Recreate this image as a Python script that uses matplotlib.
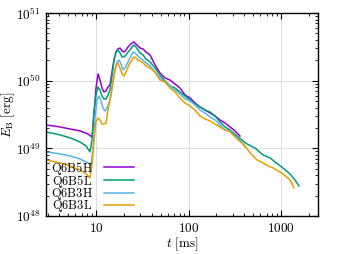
import numpy as np
import matplotlib
matplotlib.use("Agg")
import matplotlib.pyplot as plt
from matplotlib.ticker import LogLocator, FuncFormatter, NullFormatter

plt.rcParams['mathtext.fontset'] = 'cm'
plt.rcParams['font.family'] = ['DejaVu Serif']

labels = ["Q6B5H", "Q6B5L", "Q6B3H", "Q6B3L"]
colors = ["#9400d3", "#009e73", "#56b4e9", "#e69f00"]

# Q6B5H
t_b5h = [2.88, 4.08, 5.23, 6.71, 8.19, 9.05, 9.51, 10.0, 10.51, 11.05, 11.61, 12.2, 12.83, 13.48,
         14.17, 14.89, 15.65, 16.45, 17.29, 18.17, 19.1, 20.07, 21.1, 22.18, 23.31, 24.5, 25.75,
         27.06, 28.45, 29.9, 32.2, 34.7, 38.4, 43.4, 49.2, 55.7, 63.1, 71.4, 80.9, 91.6, 103.8,
         117.5, 133, 150.7, 170.6, 193.4, 219, 248, 281, 318, 360]
e_b5h = [2.22e49, 2.07e49, 1.93e49, 1.81e49, 1.63e49, 1.47e49, 3.11e49, 7.80e49, 1.26e50, 1.02e50,
         7.80e49, 6.81e49, 7.05e49, 8.07e49, 8.64e49, 1.34e50, 2.02e50, 2.65e50, 2.94e50, 3.04e50,
         2.75e50, 2.65e50, 2.84e50, 3.15e50, 3.37e50, 3.60e50, 3.73e50, 3.48e50, 3.26e50, 3.04e50,
         2.94e50, 2.65e50, 2.40e50, 1.71e50, 1.30e50, 1.10e50, 1.02e50, 8.94e49, 7.80e49, 6.15e49,
         5.55e49, 4.69e49, 4.09e49, 3.69e49, 3.33e49, 3.01e49, 2.63e49, 2.37e49, 2.07e49, 1.81e49,
         1.52e49]

# Q6B5L
t_b5l = [2.88, 4.08, 5.23, 6.71, 7.80, 8.61, 9.05, 9.51, 10.0, 10.51, 11.05, 11.61, 12.2, 12.83,
         13.48, 14.17, 14.89, 15.65, 16.45, 17.29, 18.17, 19.1, 20.07, 21.1, 22.18, 23.31, 24.5,
         25.75, 27.06, 28.45, 29.9, 32.2, 34.7, 38.4, 43.4, 49.2, 55.7, 63.1, 71.4, 80.9, 91.6,
         103.8, 117.5, 133, 150.7, 170.6, 193.4, 219, 248, 281, 334, 379, 429, 524, 638, 760,
         861, 1051, 1251, 1416, 1565]
e_b5l = [1.75e49, 1.58e49, 1.43e49, 1.24e49, 1.09e49, 8.85e48, 1.33e49, 3.45e49, 6.15e49, 8.07e49,
         7.29e49, 5.94e49, 5.37e49, 5.37e49, 6.15e49, 7.29e49, 1.17e50, 2.02e50, 2.65e50, 2.84e50,
         2.57e50, 2.24e50, 2.24e50, 2.40e50, 2.65e50, 2.84e50, 3.15e50, 3.37e50, 3.15e50, 2.84e50,
         2.57e50, 2.40e50, 2.09e50, 1.89e50, 1.54e50, 1.21e50, 9.90e49, 8.35e49, 7.80e49, 6.81e49,
         5.94e49, 5.19e49, 4.53e49, 4.09e49, 3.69e49, 3.45e49, 3.01e49, 2.45e49, 2.07e49, 1.87e49,
         1.52e49, 1.33e49, 1.16e49, 1.01e49, 8.00e48, 7.22e48, 6.30e48, 5.13e48, 4.19e48, 3.41e48,
         2.78e48]

# Q6B3H
t_b3h = [2.88, 4.08, 5.23, 6.71, 8.19, 8.83, 9.28, 9.75, 10.25, 10.77, 11.33, 11.90, 12.51, 13.15,
         13.82, 14.53, 15.27, 16.05, 16.87, 17.73, 18.63, 19.58, 20.58, 21.63, 22.74, 23.9, 25.1,
         26.4, 27.75, 29.9, 32.2, 34.7, 38.4, 43.4, 49.2, 55.7, 63.1, 71.4, 80.9, 91.6, 103.8,
         117.5, 133, 150.7, 170.6, 193.4, 219, 248, 281, 318, 360, 408]
e_b3h = [8.85e48, 8.27e48, 7.72e48, 6.97e48, 6.09e48, 5.69e48, 9.47e48, 2.81e49, 5.19e49, 5.94e49,
         5.01e49, 3.95e49, 3.57e49, 3.95e49, 4.69e49, 6.15e49, 9.57e49, 1.44e50, 1.89e50, 2.02e50,
         1.77e50, 1.44e50, 1.54e50, 1.77e50, 2.02e50, 2.32e50, 2.65e50, 2.57e50, 2.40e50, 2.16e50,
         2.02e50, 1.83e50, 1.65e50, 1.34e50, 1.10e50, 9.57e49, 8.35e49, 7.29e49, 6.36e49, 5.37e49,
         5.01e49, 4.38e49, 3.69e49, 3.33e49, 2.91e49, 2.63e49, 2.22e49, 1.87e49, 1.81e49, 1.52e49,
         1.33e49, 1.09e49]

# Q6B3L
t_b3l = [2.88, 4.08, 5.23, 6.71, 7.80, 8.61, 9.05, 9.51, 10.0, 10.51, 11.05, 11.61, 12.2, 12.83,
         13.48, 14.17, 14.89, 15.65, 16.45, 17.29, 18.17, 19.1, 20.07, 21.1, 22.18, 23.31, 24.5,
         25.75, 27.06, 28.45, 29.9, 32.2, 34.7, 38.4, 43.4, 49.2, 55.7, 63.1, 71.4, 80.9, 91.6,
         103.8, 117.5, 133, 150.7, 170.6, 193.4, 219, 248, 281, 334, 379, 429, 486, 550, 638,
         724, 819, 928, 1051, 1251, 1382]
e_b3l = [6.74e48, 6.09e48, 5.50e48, 4.80e48, 4.19e48, 3.66e48, 5.69e48, 1.33e49, 2.45e49, 2.81e49,
         2.63e49, 2.29e49, 2.29e49, 2.37e49, 3.69e49, 5.19e49, 7.80e49, 1.21e50, 1.65e50, 1.83e50,
         1.54e50, 1.26e50, 1.17e50, 1.34e50, 1.59e50, 1.83e50, 2.02e50, 2.24e50, 2.16e50, 2.02e50,
         1.95e50, 1.83e50, 1.65e50, 1.54e50, 1.34e50, 1.02e50, 9.57e49, 7.80e49, 6.81e49, 5.55e49,
         4.69e49, 4.23e49, 3.69e49, 3.01e49, 2.72e49, 2.54e49, 2.29e49, 2.07e49, 1.87e49, 1.75e49,
         1.38e49, 1.20e49, 9.80e48, 8.00e48, 6.74e48, 6.09e48, 5.50e48, 5.13e48, 4.64e48, 4.19e48,
         3.41e48, 2.60e48]

series_t = [t_b5h, t_b5l, t_b3h, t_b3l]
series_e = [e_b5h, e_b5l, e_b3h, e_b3l]

fig = plt.figure(figsize=(3.38, 2.54), dpi=100)
ax = fig.add_axes([46/338, 1-216/254, 272/338, 203/254])

for t, e, lab, c in zip(series_t, series_e, labels, colors):
    ax.plot(t, e, color=c, lw=1.1, label=r'$\mathrm{%s}$' % lab)

ax.set_xscale('log')
ax.set_yscale('log')
ax.set_xlim(2.88, 2512)
ax.set_ylim(1e48, 1e51)

ax.xaxis.set_major_locator(LogLocator(base=10, numticks=10))
ax.xaxis.set_minor_locator(LogLocator(base=10, subs=np.arange(2, 10), numticks=20))
ax.yaxis.set_major_locator(LogLocator(base=10, numticks=10))
ax.yaxis.set_minor_locator(LogLocator(base=10, subs=np.arange(2, 10), numticks=20))
ax.xaxis.set_major_formatter(FuncFormatter(lambda v, p: r'$%d$' % round(v)))
ax.yaxis.set_major_formatter(FuncFormatter(lambda v, p: r'$10^{%d}$' % round(np.log10(v))))
ax.xaxis.set_minor_formatter(NullFormatter())
ax.yaxis.set_minor_formatter(NullFormatter())

ax.tick_params(which='both', direction='in', top=True, right=True, labelsize=9.5, colors='black')
ax.tick_params(which='major', length=4.5, width=0.8, pad=4)
ax.tick_params(which='minor', length=2.5, width=0.6)
for s in ax.spines.values():
    s.set_linewidth(1.0)

ax.grid(True, which='major', color='#d8d8d8', lw=0.6)
ax.set_axisbelow(True)

ax.set_xlabel(r'$t\ \mathrm{[ms]}$', fontsize=9.5, labelpad=1)
ax.set_ylabel(r'$E_{\rm B}\ \mathrm{[erg]}$', fontsize=9.5, labelpad=-1)

leg = ax.legend(loc='lower left', bbox_to_anchor=(-0.015, -0.035), frameon=False, markerfirst=False,
                fontsize=9, handlelength=2.4, handletextpad=0.95, labelspacing=-0.3,
                borderaxespad=0.3)

fig.savefig('out.png', dpi=100)
